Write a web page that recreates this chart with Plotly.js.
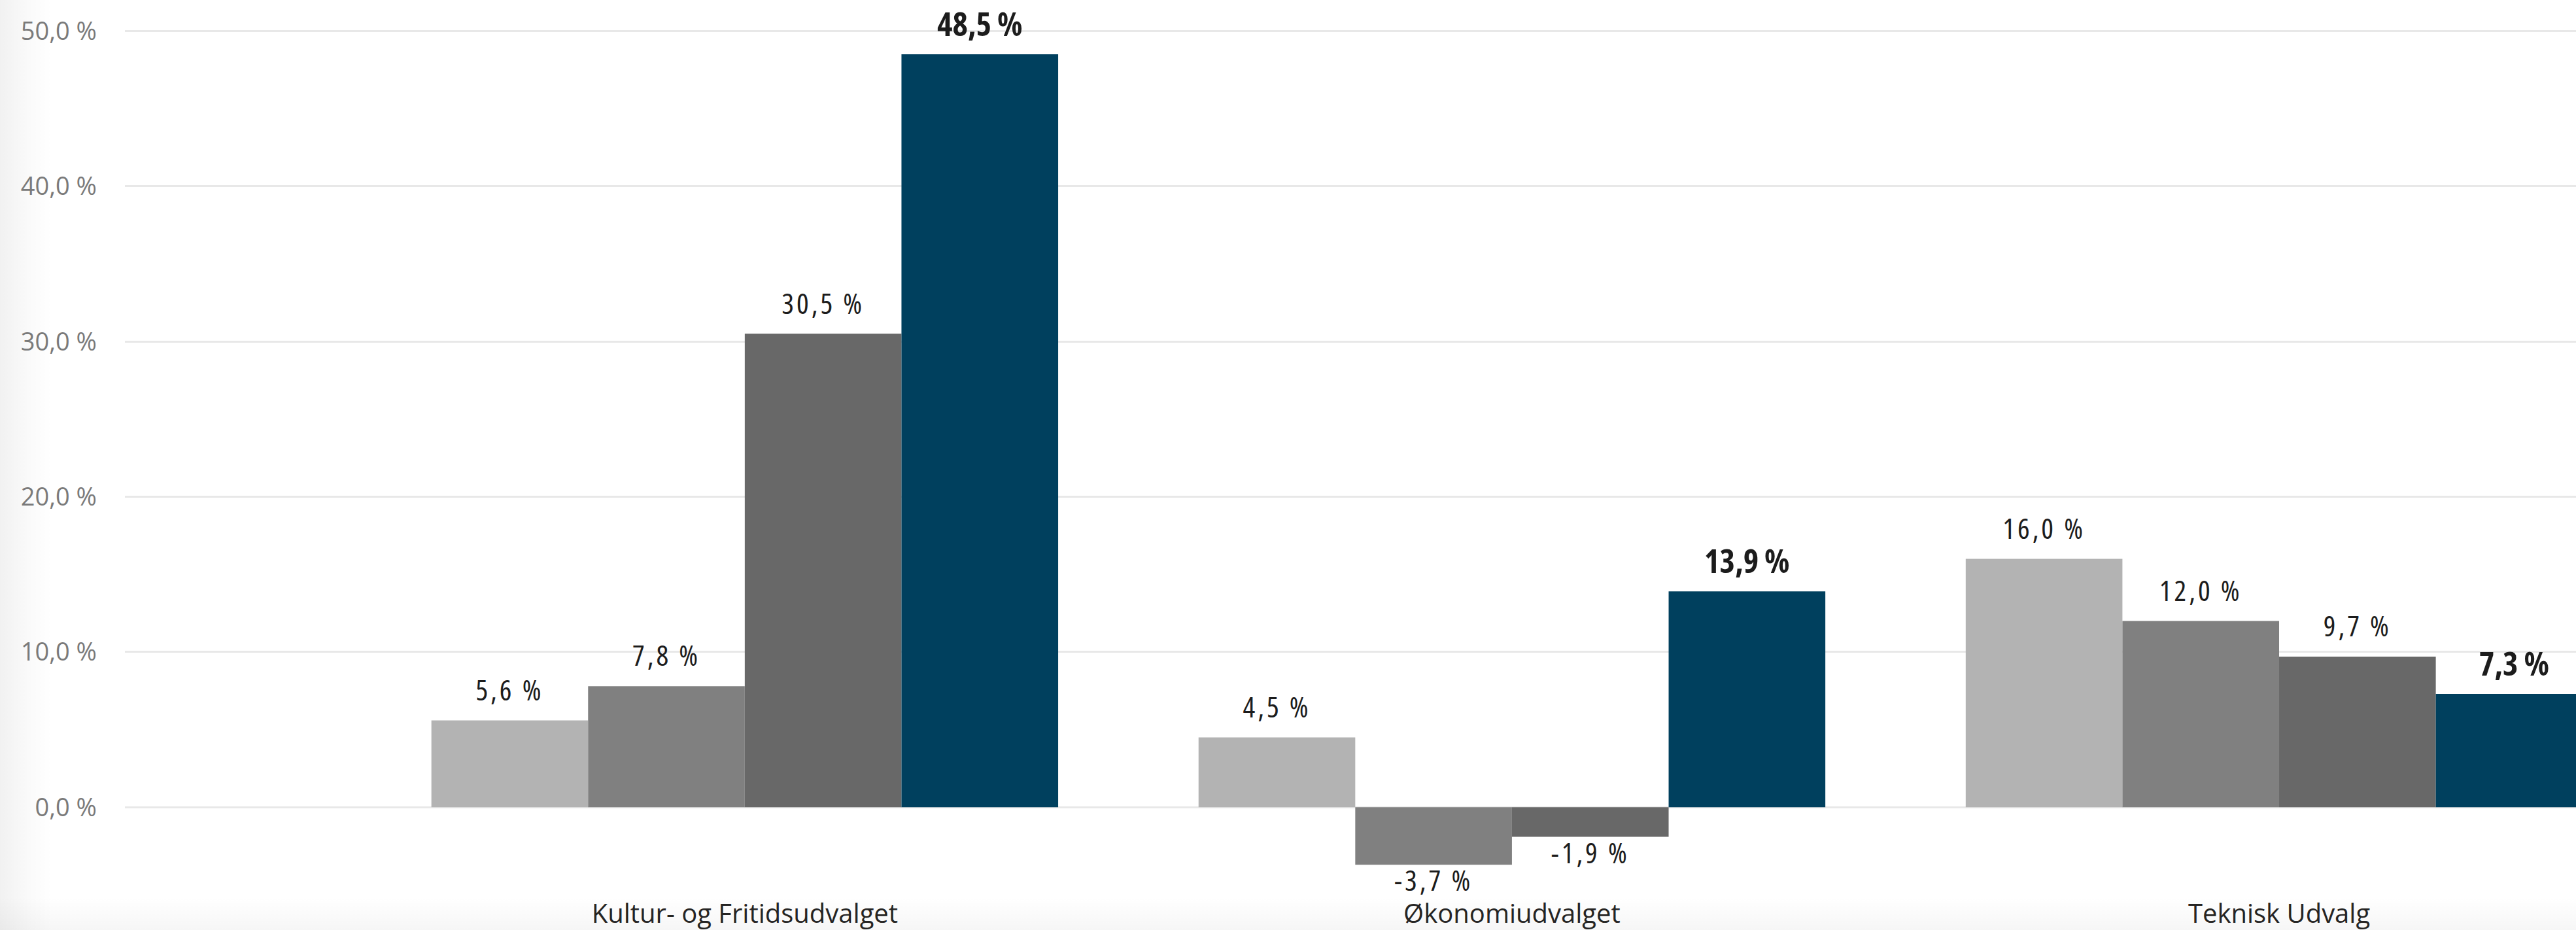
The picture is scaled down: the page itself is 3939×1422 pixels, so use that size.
<!DOCTYPE html>
<html>
<head>
<meta charset="utf-8">
<script src="https://cdn.plot.ly/plotly-3.0.1.min.js"></script>
<style>
  html, body { margin: 0; padding: 0; }
  body {
    width: 3939px; height: 1422px; overflow: hidden;
    background:
      linear-gradient(to right, rgba(0,0,0,0.055) 0px, rgba(0,0,0,0.02) 45px, rgba(0,0,0,0) 80px),
      linear-gradient(to top, rgba(0,0,0,0.035) 0px, rgba(0,0,0,0) 50px),
      #ffffff;
  }
  #chart { width: 3939px; height: 1422px; }
  .textpoint text { font-stretch: 75% !important; }
  .textpoint text[style*="font-size: 44px"] { letter-spacing: 4px; }
</style>
</head>
<body>
<div id="chart"></div>
<script>
// ---- data ----
const categories = ["Kultur- og Fritidsudvalget", "Økonomiudvalget", "Teknisk Udvalg"];
const series1 = [5.6, 4.5, 16.0];
const series2 = [7.8, -3.7, 12.0];
const series3 = [30.5, -1.9, 9.7];
const series4 = [48.5, 13.9, 7.3];
const seriesNames = ["Serie 1", "Serie 2", "Serie 3", "Serie 4"];
const seriesColors = ["#B3B3B3", "#808080", "#686868", "#00405E"];
const yTickVals = [0, 10, 20, 30, 40, 50];

function fmt(v) { return v.toFixed(1).replace('.', ',') + ' %'; }

const labelFamily = '"Open Sans", "Noto Sans", sans-serif';
const allSeries = [series1, series2, series3, series4];
const GAP = 0.183;

const barTraces = allSeries.map((vals, i) => ({
  type: 'bar',
  name: seriesNames[i],
  x: categories,
  y: vals,
  marker: { color: seriesColors[i], line: { width: 0 } },
  cliponaxis: true,
  hoverinfo: 'skip'
}));

// value labels, aligned with the bars through scattermode 'group'
const labelTraces = allSeries.map((vals, i) => ({
  type: 'scatter',
  mode: 'markers+text',
  name: seriesNames[i] + ' label',
  x: categories,
  y: vals,
  text: vals.map(fmt),
  textposition: vals.map(v => v < 0 ? 'bottom center' : 'top center'),
  marker: {
    size: vals.map(v => v < 0 ? 10 : (i === 3 ? 24 : 30)),
    opacity: 0,
    color: seriesColors[i]
  },
  textfont: i === 3
    ? { family: labelFamily, size: 50, color: '#1c1c1c', weight: 'bold' }
    : { family: labelFamily, size: 44, color: '#1c1c1c' },
  cliponaxis: false,
  hoverinfo: 'skip'
}));

const layout = {
  width: 3939,
  height: 1422,
  margin: { l: 191, r: 0, t: 0, b: 69, pad: 0 },
  paper_bgcolor: 'rgba(0,0,0,0)',
  plot_bgcolor: 'rgba(0,0,0,0)',
  showlegend: false,
  barmode: 'group',
  bargap: GAP,
  bargroupgap: 0,
  scattermode: 'group',
  scattergap: GAP,
  separators: ', ',
  xaxis: {
    type: 'category',
    range: [-0.808, 2.387],
    showgrid: false,
    zeroline: false,
    showline: false,
    ticks: '',
    ticklabelstandoff: 17,
    tickfont: { family: '"Open Sans", "Noto Sans", sans-serif', size: 40, color: '#252423' },
    fixedrange: true
  },
  yaxis: {
    range: [-5, 52],
    tickvals: yTickVals,
    ticktext: yTickVals.map(fmt),
    showgrid: true,
    gridcolor: '#E8E8E8',
    gridwidth: 3,
    zeroline: true,
    zerolinecolor: '#E8E8E8',
    zerolinewidth: 3,
    showline: false,
    ticks: '',
    ticklabelstandoff: 42,
    tickfont: { family: '"Open Sans", "Noto Sans", sans-serif', size: 38, color: '#7a7a7a' },
    fixedrange: true
  },
  hovermode: false
};

Plotly.newPlot('chart', barTraces.concat(labelTraces), layout, { displayModeBar: false, staticPlot: true });
</script>
</body>
</html>
